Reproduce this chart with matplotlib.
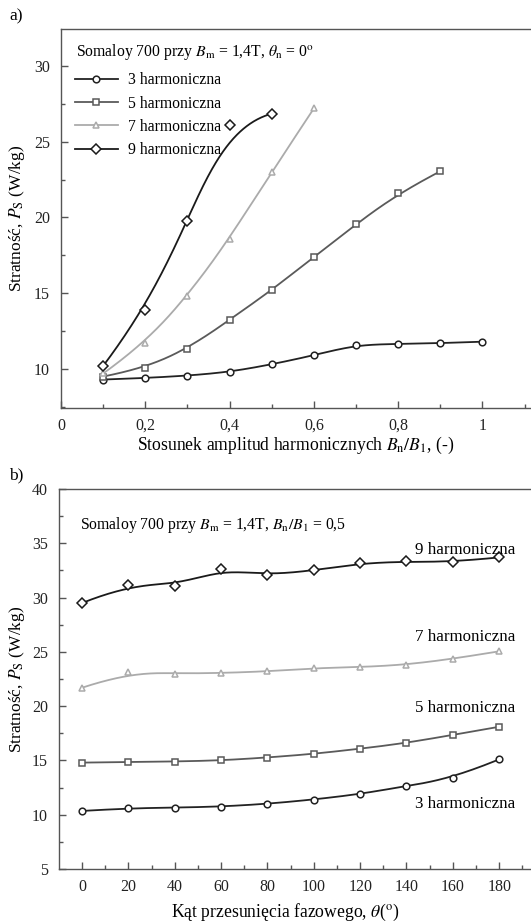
import numpy as np
import matplotlib
matplotlib.use("Agg")
import matplotlib.pyplot as plt
from matplotlib.ticker import MultipleLocator, FixedLocator, FuncFormatter

plt.rcParams['font.family'] = ['Liberation Serif', 'DejaVu Serif']
plt.rcParams['mathtext.fontset'] = 'stix'

# --- dane: a) straty vs Bn/B1 ---
ratio = [0.1, 0.2, 0.3, 0.4, 0.5, 0.6, 0.7, 0.8, 0.9, 1.0]
a_h3 = [9.3, 9.4, 9.55, 9.8, 10.3, 10.9, 11.6, 11.65, 11.7, 11.8]
a_h5 = [9.5, 10.05, 11.3, 13.25, 15.2, 17.4, 19.55, 21.6, 23.05]
a_h7 = [9.7, 11.7, 14.8, 18.6, 23.0, 27.2]
a_h9 = [10.2, 13.9, 19.75, 26.1, 26.85]

# --- dane: b) straty vs kat przesuniecia ---
theta = [0, 20, 40, 60, 80, 100, 120, 140, 160, 180]
b_h3 = [10.35, 10.6, 10.65, 10.75, 11.0, 11.4, 11.9, 12.65, 13.35, 15.1]
b_h5 = [14.8, 14.85, 14.9, 15.0, 15.27, 15.6, 16.08, 16.6, 17.35, 18.1]
b_h7 = [21.7, 23.1, 23.0, 23.05, 23.2, 23.5, 23.6, 23.8, 24.35, 25.05]
b_h9 = [29.5, 31.2, 31.05, 32.6, 32.07, 32.5, 33.15, 33.33, 33.27, 33.7]

labels = ['3 harmoniczna', '5 harmoniczna', '7 harmoniczna', '9 harmoniczna']
colors = ['#222222', '#5a5a5a', '#ababab', '#1a1a1a']
markers = ['o', 's', '^', 'D']


def bspline(x, y, n=300, k=3):
    """B-spline (jak w Origin) - krzywa nie musi przechodzic przez punkty"""
    P = np.column_stack([x, y])
    m = len(P)
    k = min(k, m - 1)
    knots = np.concatenate([np.zeros(k), np.linspace(0, 1, m - k + 1), np.ones(k)])
    t = np.linspace(0, 1, n)
    t[-1] = 1 - 1e-10
    # Cox-de Boor
    N = np.zeros((n, len(knots) - 1))
    for i in range(len(knots) - 1):
        N[:, i] = (t >= knots[i]) & (t < knots[i + 1])
    for d in range(1, k + 1):
        Nn = np.zeros((n, len(knots) - 1 - d))
        for i in range(len(knots) - 1 - d):
            a = 0.0
            b = 0.0
            if knots[i + d] != knots[i]:
                a = (t - knots[i]) / (knots[i + d] - knots[i]) * N[:, i]
            if knots[i + d + 1] != knots[i + 1]:
                b = (knots[i + d + 1] - t) / (knots[i + d + 1] - knots[i + 1]) * N[:, i + 1]
            Nn[:, i] = a + b
        N = Nn
    C = N @ P
    return C[:, 0], C[:, 1]


def mstyle(marker, color):
    return dict(marker=marker, ms=5.2 if marker == 'D' else 4.8,
                mfc='white', mec=color, mew=1.1)


def draw(ax, x, y, color, marker, label=None):
    sx, sy = bspline(x, y)
    ax.plot(sx, sy, color=color, lw=1.3, zorder=2)
    ax.plot(x, y, linestyle='none', zorder=3, **mstyle(marker, color))
    if label:
        ax.plot([], [], color=color, lw=1.3, label=label, **mstyle(marker, color))


def style(ax):
    for s in ax.spines.values():
        s.set_color('#555555')
        s.set_linewidth(1.0)
    ax.tick_params(which='both', direction='in', colors='#555555', labelcolor='#222222',
                   labelsize=11.5, width=1.0)
    ax.tick_params(which='major', length=5)
    ax.tick_params(which='minor', length=3)
    ax.tick_params(axis='y', pad=8)
    ax.tick_params(axis='x', pad=7)


fig = plt.figure(figsize=(5.31, 9.24), dpi=100)

# ---------- a) ----------
ax1 = fig.add_axes([0.1149, 0.5584, 0.9525, 0.4102])
draw(ax1, ratio, a_h3, colors[0], markers[0], labels[0])
draw(ax1, ratio[:9], a_h5, colors[1], markers[1], labels[1])
draw(ax1, ratio[:6], a_h7, colors[2], markers[2], labels[2])
draw(ax1, ratio[:5], a_h9, colors[3], markers[3], labels[3])
ax1.set_xlim(0, 1.2)
ax1.set_ylim(7.42, 32.44)
ax1.xaxis.set_major_locator(FixedLocator([0, 0.2, 0.4, 0.6, 0.8, 1.0]))
ax1.xaxis.set_minor_locator(FixedLocator([0.1, 0.3, 0.5, 0.7, 0.9, 1.1]))
ax1.yaxis.set_major_locator(MultipleLocator(5))
ax1.yaxis.set_minor_locator(MultipleLocator(2.5))
ax1.xaxis.set_major_formatter(FuncFormatter(lambda v, p: f"{v:.1f}".rstrip('0').rstrip('.').replace('.', ',')))
style(ax1)
ax1.set_xlabel(r'Stosunek amplitud harmonicznych $B_\mathrm{n}/B_1$, (-)', fontsize=12.7)
ax1.set_ylabel(r'Stratność, $P_\mathrm{S}$ (W/kg)', fontsize=12.5)
ax1.xaxis.set_label_coords((296 - 61) / 505.8, -0.072)
ax1.yaxis.set_label_coords((27 - 61) / 505.8, 0.5)
ax1.text(0.03, 0.965, r'Somaloy 700 przy $B_\mathrm{m}$ = 1,4T, $\theta_\mathrm{n}$ = 0$^\mathrm{o}$',
         transform=ax1.transAxes, fontsize=11.3, va='top', ha='left')
leg = ax1.legend(loc='upper left', bbox_to_anchor=(0.005, 0.915), frameon=False, fontsize=11.3,
                 handlelength=2.8, labelspacing=0.47, handletextpad=0.6, borderaxespad=0.3)

# ---------- b) ----------
ax2 = fig.add_axes([0.1111, 0.0595, 0.9162, 0.4113])
draw(ax2, theta, b_h9, colors[3], markers[3])
draw(ax2, theta, b_h7, colors[2], markers[2])
draw(ax2, theta, b_h5, colors[1], markers[1])
draw(ax2, theta, b_h3, colors[0], markers[0])
ax2.set_xlim(-10, 200)
ax2.set_ylim(5, 40)
ax2.xaxis.set_major_locator(FixedLocator(theta))
ax2.xaxis.set_minor_locator(FixedLocator([10, 30, 50, 70, 90, 110, 130, 150, 170, 190]))
ax2.yaxis.set_major_locator(MultipleLocator(5))
ax2.yaxis.set_minor_locator(MultipleLocator(2.5))
style(ax2)
ax2.set_xlabel(r'Kąt przesunięcia fazowego, $\theta$($^\mathrm{o}$)', fontsize=12.7)
ax2.set_ylabel(r'Stratność, $P_\mathrm{S}$ (W/kg)', fontsize=12.5)
ax2.xaxis.set_label_coords((285 - 59) / 486.5, -0.086)
ax2.yaxis.set_label_coords((27 - 59) / 486.5, 0.5)
ax2.text(0.043, 0.905, r'Somaloy 700 przy $B_\mathrm{m}$ = 1,4T, $B_\mathrm{n}/B_1$ = 0,5',
         transform=ax2.transAxes, fontsize=11.3, va='center', ha='left')
for txt, yv in zip(['9 harmoniczna', '7 harmoniczna', '5 harmoniczna', '3 harmoniczna'],
                   [34.4, 26.35, 19.8, 11.0]):
    ax2.text(187, yv, txt, fontsize=12.2, ha='right', va='center')

fig.text(0.017, 0.982, 'a)', fontsize=12.5, va='center')
fig.text(0.017, 0.486, 'b)', fontsize=12.5, va='center')

fig.savefig('out.png', dpi=100)
